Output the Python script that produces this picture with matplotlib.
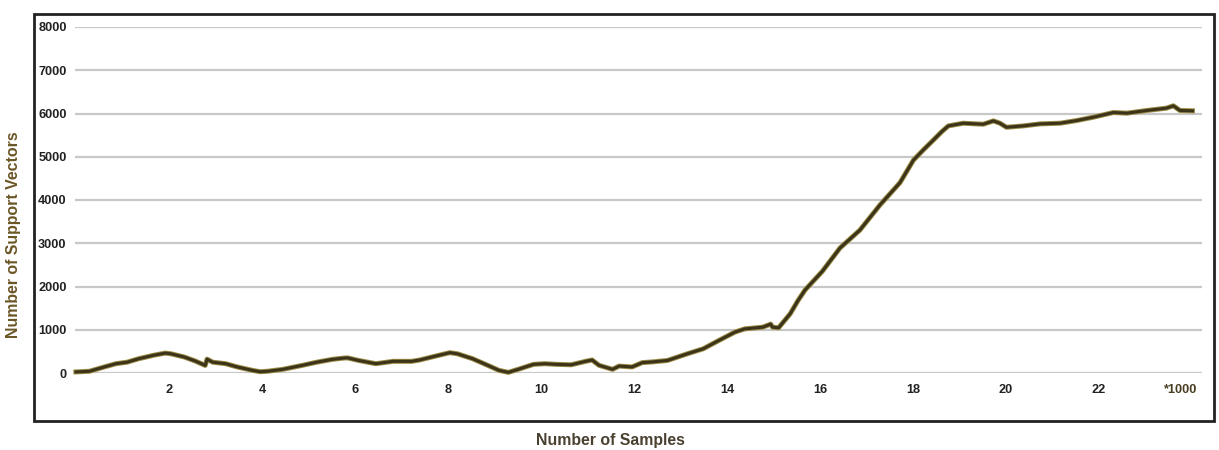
import matplotlib
matplotlib.use("Agg")
import matplotlib.pyplot as plt
import matplotlib.patheffects as pe
from matplotlib.patches import Rectangle

# Samples (in thousands) and the corresponding support-vector counts
samples_k = [0.0, 0.29, 0.61, 0.86, 1.1, 1.35, 1.67, 1.92, 2.04, 2.33, 2.57, 2.78,
             2.82, 2.94, 3.22, 3.47, 3.8, 3.96, 4.12, 4.45, 4.86, 5.18, 5.51, 5.76,
             5.84, 6.08, 6.45, 6.82, 7.22, 7.39, 7.71, 8.04, 8.2, 8.53, 8.86, 9.1,
             9.3, 9.51, 9.84, 10.08, 10.33, 10.65, 10.98, 11.1, 11.25, 11.54, 11.68,
             11.96, 12.18, 12.38, 12.72, 13.15, 13.49, 13.83, 14.17, 14.38, 14.77,
             14.94, 14.98, 15.11, 15.36, 15.53, 15.68, 16.05, 16.43, 16.86, 17.29,
             17.72, 18.01, 18.22, 18.44, 18.62, 18.76, 19.08, 19.51, 19.73, 19.87,
             20.01, 20.37, 20.73, 21.16, 21.52, 21.88, 22.31, 22.6, 23.03, 23.45,
             23.6, 23.74, 24.01]
support_vectors = [25, 40, 140, 215, 250, 330, 410, 460, 445, 370, 275, 175,
                   320, 250, 215, 140, 60, 30, 40, 85, 175, 250, 315, 345,
                   350, 290, 215, 270, 270, 300, 385, 470, 445, 330, 175, 60,
                   15, 85, 200, 215, 200, 190, 275, 300, 177, 85, 160,
                   140, 240, 255, 290, 445, 560, 755, 945, 1020, 1060,
                   1130, 1060, 1045, 1370, 1680, 1920, 2350, 2890, 3306, 3885,
                   4400, 4922, 5155, 5388, 5581, 5713, 5775, 5752, 5829, 5775,
                   5682, 5713, 5760, 5775, 5837, 5915, 6023, 6008, 6070, 6124,
                   6178, 6070, 6062]

x_ticks = [2, 4, 6, 8, 10, 12, 14, 16, 18, 20, 22]
x_tick_labels = ["2", "4", "6", "8", "10", "12", "14", "16", "18", "20", "22"]
y_ticks = [0, 1000, 2000, 3000, 4000, 5000, 6000, 7000, 8000]
scale_label = "*1000"

W, H = 1219, 450
fig = plt.figure(figsize=(W / 100, H / 100), dpi=100)
fig.patch.set_facecolor("white")
plt.rcParams["font.family"] = ["Liberation Sans", "DejaVu Sans"]

# Axes box in pixel units: left, top(0-based from top), right, bottom
ax_l, ax_r, ax_t, ax_b = 75, 1202, 27, 373
ax = fig.add_axes([ax_l / W, 1 - ax_b / H, (ax_r - ax_l) / W, (ax_b - ax_t) / H])
x_max = (ax_r - 76) / 46.5
ax.set_xlim(-0.02, x_max)
ax.set_ylim(0, 8000)

for s in ax.spines.values():
    s.set_visible(False)

ax.set_yticks(y_ticks)
ax.set_yticklabels([str(v) for v in y_ticks])
ax.set_xticks(x_ticks + [23.75])
ax.set_xticklabels(x_tick_labels + [scale_label])
ax.tick_params(axis="both", length=0, labelsize=9.2, labelcolor="#222222")
ax.tick_params(axis="y", pad=6)
ax.tick_params(axis="x", pad=8)
for lbl in ax.get_xticklabels() + ax.get_yticklabels():
    lbl.set_fontweight("bold")
ax.get_xticklabels()[-1].set_color("#4a3e22")

ax.yaxis.grid(True, color="#c8c8c8", linewidth=1.6)
ax.xaxis.grid(False)
ax.set_axisbelow(True)

ax.plot(samples_k, support_vectors, color="#3b3419", linewidth=2.2,
        solid_joinstyle="round", clip_on=False,
        path_effects=[pe.Stroke(linewidth=3.6, foreground="#9a8a45"), pe.Normal()])

# Outer frame around the chart area
frame = Rectangle((34 / W, 1 - 421 / H), (1214 - 34) / W, (421 - 14) / H,
                  transform=fig.transFigure, fill=False, edgecolor="#222222",
                  linewidth=2.0)
fig.add_artist(frame)

fig.text(14 / W, 1 - 235 / H, "Number of Support Vectors", rotation=90,
         ha="center", va="center", fontsize=11.4, fontweight="bold", color="#6b5626")
fig.text(610 / W, 1 - 441 / H, "Number of Samples", ha="center", va="center",
         fontsize=11.4, fontweight="bold", color="#4a4030")

fig.savefig("out.png", dpi=100)
